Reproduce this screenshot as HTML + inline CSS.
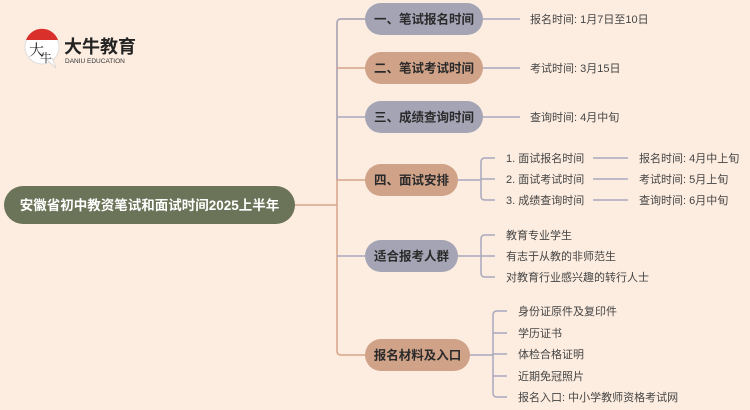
<!DOCTYPE html>
<html><head><meta charset="utf-8"><style>
html,body{margin:0;padding:0;background:#fdede0;}
svg{display:block;font-family:"Liberation Sans","Noto Sans CJK SC",sans-serif;}
.l{font-size:11px;fill:#444;}
.n{font-size:12.5px;font-weight:bold;fill:#2a2a2a;}
</style></head><body>
<svg width="750" height="410" viewBox="0 0 750 410" xmlns="http://www.w3.org/2000/svg">
<rect width="750" height="410" fill="#fdede0"/>
<!-- logo -->
<circle cx="42" cy="47" r="17" fill="#fff" stroke="#ddd" stroke-width="1"/>
<path d="M26 40 A17 17 0 0 1 58 40 Z" fill="#d9302c"/>
<path d="M47 60 L56 68 L52 58 Z" fill="#fff" stroke="#ccc" stroke-width="0.6"/>
<text x="29" y="55" font-size="15" fill="#222" font-family="Liberation Serif,Noto Serif CJK SC,serif">大</text>
<text x="40" y="62" font-size="12" fill="#222" font-family="Liberation Serif,Noto Serif CJK SC,serif">牛</text>
<text x="64" y="53" font-size="18" font-weight="bold" fill="#222">大牛教育</text>
<text x="65" y="63" font-size="6.5" fill="#333">DANIU EDUCATION</text>
<!-- connectors -->
<g fill="none" stroke-width="1.5">
<path d="M295 205 H337" stroke="#d8a487"/>
<path d="M366 19 H341 Q337 19 337 23 V351 Q337 355 341 355 H366" stroke="#d8a487"/>
<path d="M337 23 Q337 19 341 19 H366 M337 117 H366 M337 256 H366 M337 23 V180" stroke="#a9a8bd"/>
<path d="M337 68 H366 M337 180 H366" stroke="#d8a487"/>
<path d="M483 19 H520 M483 68 H520 M483 117 H520" stroke="#a9a8bd"/>
<path d="M458 180 H481 M495 158 H485 Q481 158 481 162 V196 Q481 200 485 200 H495 M481 179 H495" stroke="#a9a8bd"/>
<path d="M593 158 H628 M593 179 H628 M593 200 H628" stroke="#a9a8bd"/>
<path d="M458 256 H481 M495 235 H485 Q481 235 481 239 V273 Q481 277 485 277 H495 M481 256 H495" stroke="#a9a8bd"/>
<path d="M470 355 H493 M507 311 H497 Q493 311 493 315 V393 Q493 397 497 397 H507 M493 333 H507 M493 354 H507 M493 376 H507" stroke="#a9a8bd"/>
</g>
<!-- root -->
<rect x="4" y="186" width="291" height="38" rx="19" fill="#6b7358"/>
<text x="149.5" y="210" text-anchor="middle" font-size="13.5" font-weight="bold" fill="#fff">安徽省初中教资笔试和面试时间2025上半年</text>
<!-- nodes -->
<rect x="365" y="3" width="118" height="32" rx="16" fill="#a5a4b5"/>
<text x="424" y="23.5" text-anchor="middle" class="n">一、笔试报名时间</text>
<rect x="365" y="52" width="118" height="32" rx="16" fill="#d0a288"/>
<text x="424" y="72.5" text-anchor="middle" class="n">二、笔试考试时间</text>
<rect x="365" y="101" width="118" height="32" rx="16" fill="#a5a4b5"/>
<text x="424" y="121.5" text-anchor="middle" class="n">三、成绩查询时间</text>
<rect x="365" y="164" width="93" height="32" rx="16" fill="#d0a288"/>
<text x="411.5" y="184.5" text-anchor="middle" class="n">四、面试安排</text>
<rect x="365" y="240" width="93" height="32" rx="16" fill="#a5a4b5"/>
<text x="411.5" y="260.5" text-anchor="middle" class="n">适合报考人群</text>
<rect x="365" y="339" width="105" height="32" rx="16" fill="#d0a288"/>
<text x="417.5" y="359.5" text-anchor="middle" class="n">报名材料及入口</text>
<!-- leaves -->
<text x="530" y="23" class="l">报名时间: 1月7日至10日</text>
<text x="530" y="72" class="l">考试时间: 3月15日</text>
<text x="530" y="121" class="l">查询时间: 4月中旬</text>
<text x="506" y="162" class="l">1. 面试报名时间</text>
<text x="506" y="183" class="l">2. 面试考试时间</text>
<text x="506" y="204" class="l">3. 成绩查询时间</text>
<text x="639" y="162" class="l">报名时间: 4月中上旬</text>
<text x="639" y="183" class="l">考试时间: 5月上旬</text>
<text x="639" y="204" class="l">查询时间: 6月中旬</text>
<text x="506" y="239" class="l">教育专业学生</text>
<text x="506" y="260" class="l">有志于从教的非师范生</text>
<text x="506" y="281" class="l">对教育行业感兴趣的转行人士</text>
<text x="518" y="315" class="l">身份证原件及复印件</text>
<text x="518" y="337" class="l">学历证书</text>
<text x="518" y="358" class="l">体检合格证明</text>
<text x="518" y="380" class="l">近期免冠照片</text>
<text x="518" y="401" class="l">报名入口: 中小学教师资格考试网</text>
</svg>
</body></html>
